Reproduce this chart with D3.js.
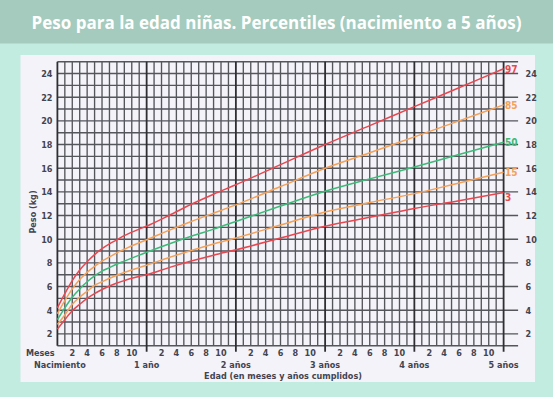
<!DOCTYPE html>
<html>
<head>
<meta charset="utf-8">
<script src="https://cdn.jsdelivr.net/npm/d3@7"></script>
<style>
  html, body { margin: 0; padding: 0; background: #c3ece0; }
  svg { display: block; }
  .lbl { font-family: "DejaVu Sans Condensed", "Liberation Sans Narrow", sans-serif; font-size: 9px; font-weight: bold; fill: #44444f; }
</style>
</head>
<body>
<div id="chart"></div>
<script>
// Chart size and layout
const WIDTH = 553;
const HEIGHT = 397;
const PLOT = { left: 57.4, right: 503.6, top: 61.7, bottom: 345.7 };

// Data: ages in months, weights in kg per percentile
const months = [0, 1, 2, 3, 4, 5, 6, 7, 8, 9, 10, 11, 12, 15, 18, 21, 24, 30, 36, 42, 48, 54, 60];
const p3  = [2.4, 3.2, 3.95, 4.5, 5.0, 5.4, 5.75, 6.05, 6.3, 6.5, 6.7, 6.85, 7.0, 7.6, 8.15, 8.65, 9.1, 10.1, 11.1, 11.85, 12.6, 13.25, 13.95];
const p15 = [2.8, 3.6, 4.5, 5.1, 5.6, 6.1, 6.4, 6.7, 6.95, 7.2, 7.4, 7.6, 7.8, 8.45, 9.05, 9.6, 10.1, 11.2, 12.3, 13.1, 13.85, 14.75, 15.65];
const p50 = [3.2, 4.2, 5.1, 5.8, 6.4, 6.9, 7.3, 7.6, 7.9, 8.15, 8.4, 8.65, 8.9, 9.6, 10.25, 10.85, 11.5, 12.8, 14.05, 15.1, 16.1, 17.15, 18.2];
const p85 = [3.7, 4.8, 5.8, 6.6, 7.2, 7.7, 8.15, 8.5, 8.85, 9.15, 9.45, 9.7, 9.95, 10.75, 11.5, 12.2, 12.9, 14.45, 16.0, 17.3, 18.65, 20.0, 21.35];
const p97 = [4.2, 5.4, 6.5, 7.4, 8.1, 8.7, 9.2, 9.6, 9.95, 10.3, 10.6, 10.85, 11.1, 12.0, 12.95, 13.8, 14.6, 16.3, 18.0, 19.6, 21.2, 22.8, 24.4];

const seriesNames = ['97', '85', '50', '15', '3'];
const seriesValues = [p97, p85, p50, p15, p3];
const seriesColors = ['#e9474f', '#f4a058', '#3dba78', '#f4a058', '#e9474f'];

// Tick labels
const monthTicks = [2, 4, 6, 8, 10];
const yearLabels = ['1 año', '2 años', '3 años', '4 años', '5 años'];
const kgTicks = [2, 4, 6, 8, 10, 12, 14, 16, 18, 20, 22, 24];

const title = 'Peso para la edad niñas. Percentiles (nacimiento a 5 años)';

const svg = d3.select('#chart').append('svg')
    .attr('width', WIDTH)
    .attr('height', HEIGHT);

// header band + panel
svg.append('rect').attr('width', WIDTH).attr('height', HEIGHT).attr('fill', '#c3ece0');
svg.append('rect').attr('width', WIDTH).attr('height', 43.5).attr('fill', '#a4cbbd');
svg.append('text')
    .attr('x', WIDTH / 2)
    .attr('y', 28.5)
    .attr('text-anchor', 'middle')
    .style('font-family', '"Open Sans", sans-serif')
    .style('font-weight', 'bold')
    .style('font-size', '17px')
    .style('fill', '#ffffff')
    .text(title);

svg.append('rect')
    .attr('x', 20.5).attr('y', 55)
    .attr('width', 514.5).attr('height', 327)
    .attr('fill', '#f3f3f9');

const x = d3.scaleLinear().domain([0, 60]).range([PLOT.left, PLOT.right]);
const y = d3.scaleLinear().domain([1, 25]).range([PLOT.bottom, PLOT.top]);

const grid = svg.append('g').attr('class', 'grid');

// horizontal lines every kg, even ones (and borders) run out to the right axis
grid.selectAll('.hline')
    .data(d3.range(1, 26))
    .enter()
    .append('line')
    .attr('class', 'hline')
    .attr('x1', PLOT.left)
    .attr('x2', d => (d % 2 === 0 || d === 1 || d === 25) ? PLOT.right + 14.5 : PLOT.right)
    .attr('y1', d => y(d))
    .attr('y2', d => y(d))
    .attr('stroke', '#55555c')
    .attr('stroke-width', 1.35);

// vertical lines every month, years heavier
grid.selectAll('.vline')
    .data(d3.range(0, 61))
    .enter()
    .append('line')
    .attr('class', 'vline')
    .attr('x1', d => x(d))
    .attr('x2', d => x(d))
    .attr('y1', PLOT.top)
    .attr('y2', d => (d % 12 === 0 && d > 0) ? PLOT.bottom + 6 : PLOT.bottom)
    .attr('stroke', d => d % 12 === 0 ? '#2e2e33' : '#55555c')
    .attr('stroke-width', d => d % 12 === 0 ? 1.8 : 1.35);

// percentile curves
const line = d3.line()
    .x((d, i) => x(months[i]))
    .y(d => y(d))
    .curve(d3.curveMonotoneX);

svg.selectAll('.curve')
    .data(seriesValues)
    .enter()
    .append('path')
    .attr('class', 'curve')
    .attr('d', line)
    .attr('fill', 'none')
    .attr('stroke', (d, i) => seriesColors[i])
    .attr('stroke-width', 1.5);

// percentile labels at the end of each curve
svg.selectAll('.plabel')
    .data(seriesValues)
    .enter()
    .append('text')
    .attr('class', 'lbl plabel')
    .attr('x', PLOT.right + 1.5)
    .attr('y', (d, i) => y(d[d.length - 1]) + (seriesNames[i] === '3' ? 9 : 3.8))
    .style('fill', (d, i) => seriesColors[i])
    .style('font-size', '10px')
    .text((d, i) => seriesNames[i]);

// y axis labels, both sides
svg.selectAll('.ylab-left')
    .data(kgTicks)
    .enter()
    .append('text')
    .attr('class', 'lbl')
    .attr('x', 52.5)
    .attr('y', d => y(d) + 3.3)
    .attr('text-anchor', 'end')
    .text(d => d);

svg.selectAll('.ylab-right')
    .data(kgTicks)
    .enter()
    .append('text')
    .attr('class', 'lbl')
    .attr('x', 525.5)
    .attr('y', d => y(d) + 3.3)
    .text(d => d);

svg.append('text')
    .attr('class', 'lbl')
    .attr('transform', `translate(35.5, 212) rotate(-90)`)
    .attr('text-anchor', 'middle')
    .text('Peso (kg)');

// x axis labels
const monthLabelData = [];
for (let yr = 0; yr < 5; yr++) {
    monthTicks.forEach(m => monthLabelData.push(yr * 12 + m));
}

svg.selectAll('.mlab')
    .data(monthLabelData)
    .enter()
    .append('text')
    .attr('class', 'lbl')
    .attr('x', d => x(d))
    .attr('y', 355.5)
    .attr('text-anchor', 'middle')
    .text(d => d % 12);

svg.selectAll('.yrlab')
    .data(yearLabels)
    .enter()
    .append('text')
    .attr('class', 'lbl')
    .attr('x', (d, i) => x((i + 1) * 12))
    .attr('y', 367.5)
    .attr('text-anchor', 'middle')
    .text(d => d);

svg.append('text')
    .attr('class', 'lbl')
    .attr('x', 26)
    .attr('y', 355.5)
    .text('Meses');

svg.append('text')
    .attr('class', 'lbl')
    .attr('x', 34)
    .attr('y', 367.5)
    .text('Nacimiento');

svg.append('text')
    .attr('class', 'lbl')
    .attr('x', 283)
    .attr('y', 378.5)
    .attr('text-anchor', 'middle')
    .text('Edad (en meses y años cumplidos)');
</script>
</body>
</html>
